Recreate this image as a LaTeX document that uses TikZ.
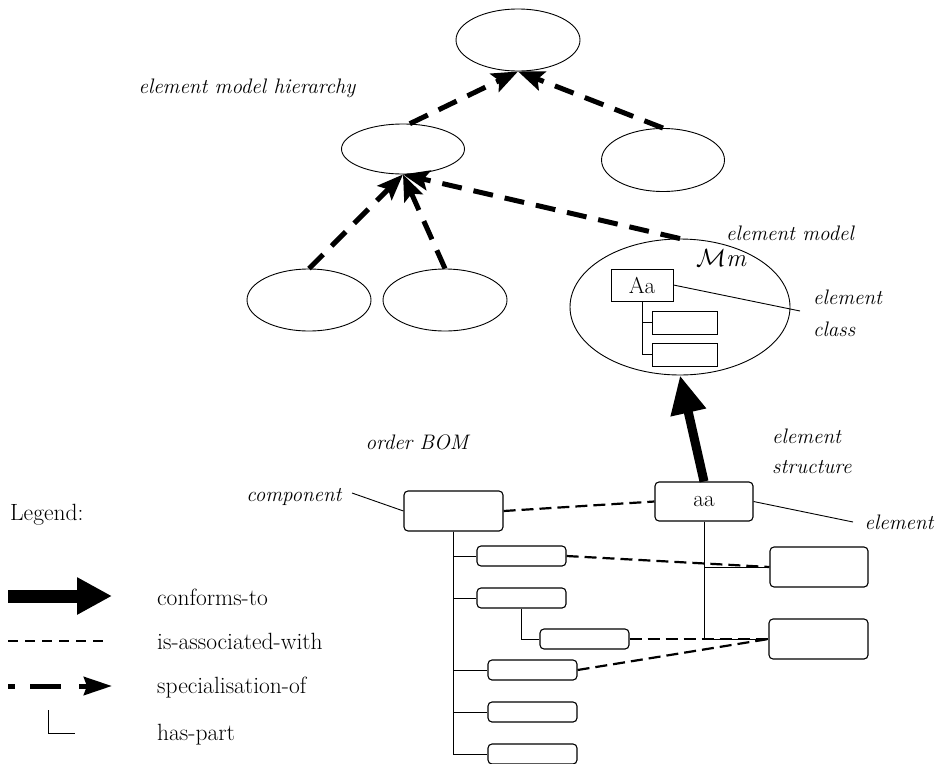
\documentclass[tikz,border=0pt]{standalone}
\usetikzlibrary{shapes.geometric,arrows.meta,calc}
\begin{document}
\begin{tikzpicture}[x=1pt,y=-1pt,
  ell/.style={draw,ellipse,line width=0.9pt,inner sep=0pt},
  rbox/.style={draw,rounded corners=4pt,line width=1.1pt,inner sep=0pt},
  sbox/.style={draw,line width=0.9pt,inner sep=0pt},
  thin/.style={line width=0.9pt},
  spec/.style={line width=5pt,dash pattern=on 20pt off 12pt,-{Stealth[length=26pt,width=20pt,inset=5pt]}},
  assoc/.style={line width=2.2pt,dash pattern=on 12pt off 6pt},
  legassoc/.style={line width=2pt,dash pattern=on 10pt off 7pt},
  conf/.style={line width=9pt,-{Triangle[length=38pt,width=34pt]}},
  itl/.style={font=\fontsize{21}{24}\selectfont\itshape,inner sep=0pt},
  leg/.style={font=\fontsize{23.5}{27}\selectfont,inner sep=0pt},
  big/.style={font=\fontsize{23}{26}\selectfont}
]
\useasboundingbox (0,0) rectangle (936,763);

% ellipses of the hierarchy
\node[ell,minimum width=124pt,minimum height=62pt] (top) at (518,40) {};
\node[ell,minimum width=123pt,minimum height=50pt] (mid) at (403,149) {};
\node[ell,minimum width=123pt,minimum height=63pt] (rgt) at (663,160) {};
\node[ell,minimum width=124pt,minimum height=62pt] (bl1) at (309,300) {};
\node[ell,minimum width=124pt,minimum height=62pt] (bl2) at (445,300) {};
\node[ell,minimum width=220pt,minimum height=136pt] (mm) at (680,307) {};

% inside element model
\node[inner sep=0pt,font=\fontsize{24.88}{28}\selectfont] (mmtext) at (722,258) {$\mathcal{M}\mathit{m}$};
\node[sbox,minimum width=62pt,minimum height=32pt,big] (Aa) at (642,285) {Aa};
\node[sbox,minimum width=65pt,minimum height=23pt] (s1) at (684.5,322.5) {};
\node[sbox,minimum width=65pt,minimum height=23pt] (s2) at (684.5,354.5) {};
\draw[thin] (Aa.south) |- (s1.west);
\draw[thin] (Aa.south) |- (s2.west);

% specialisation arrows
\draw[spec] (mid.75) -- (top.south);
\draw[spec] (rgt.north) -- (top.south);
\draw[spec] (bl1.north) -- (mid.south);
\draw[spec] (bl2.north) -- (mid.south);
\draw[spec] (mm.north) -- (mid.south);

% labels top
\node[itl] (lhier) at (247,88) {element model hierarchy};
\node[itl] (lmodel) at (790,233) {element model};
\node[itl,anchor=west] (lclass1) at (813,297) {element};
\node[itl,anchor=west] (lclass2) at (813,329) {class};
\coordinate (cls) at (800,311);
\draw[thin] (Aa.east) -- (cls);

% element structure
\node[rbox,minimum width=98pt,minimum height=39pt,big] (aa) at (704,501.5) {aa};
\node[rbox,minimum width=98pt,minimum height=40pt] (rb1) at (819,567) {};
\node[rbox,minimum width=99pt,minimum height=40pt] (rb2) at (818.5,639) {};
\draw[thin] (aa.south) |- (rb1.west);
\draw[thin] (aa.south) |- (rb2.west);
\draw[conf] (aa.north) -- (mm.south);
\node[itl,anchor=west] (lstr1) at (772,436) {element};
\node[itl,anchor=west] (lstr2) at (772,467) {structure};
\node[itl] (lelem) at (899,522) {element};
\coordinate (elc) at (853,522);
\draw[thin] (aa.east) -- (elc);

% order BOM
\node[itl] (lbom) at (417,442) {order BOM};
\node[itl] (lcomp) at (294,497) {component};
\coordinate (cmpc) at (352,493);
\node[rbox,minimum width=99pt,minimum height=40pt] (comp) at (453.5,511) {};
\draw[thin] (cmpc) -- (comp.west);
\node[rbox,minimum width=89pt,minimum height=20pt] (c1) at (521.5,556) {};
\node[rbox,minimum width=89pt,minimum height=20pt] (c2) at (521.5,598) {};
\node[rbox,minimum width=89pt,minimum height=20pt] (c21) at (584.5,639) {};
\node[rbox,minimum width=89pt,minimum height=20pt] (c3) at (532.5,670) {};
\node[rbox,minimum width=89pt,minimum height=20pt] (c4) at (532.5,712) {};
\node[rbox,minimum width=89pt,minimum height=20pt] (c5) at (532.5,754) {};
\draw[thin] (comp.south) |- (c1.west);
\draw[thin] (comp.south) |- (c2.west);
\draw[thin] (comp.south) |- (c3.west);
\draw[thin] (comp.south) |- (c4.west);
\draw[thin] (comp.south) |- (c5.west);
\draw[thin] (c2.south) |- (c21.west);

% associations
\draw[assoc] (comp.east) -- (aa.west);
\draw[assoc] (c1.east) -- (rb1.west);
\draw[assoc] (c21.east) -- (rb2.west);
\draw[assoc] (c3.east) -- (rb2.west);

% legend
\node[leg,anchor=base west] (legt) at (10,520) {Legend:};
\coordinate (l1a) at (8,596); \coordinate (l1b) at (112,596);
\draw[line width=13pt,-{Triangle[length=35pt,width=35pt]}] (l1a) -- (l1b);
\node[leg,anchor=base west] (lg1) at (157,605) {conforms-to};
\coordinate (l2a) at (8,641); \coordinate (l2b) at (110,641);
\draw[legassoc] (l2a) -- (l2b);
\node[leg,anchor=base west] (lg2) at (157,649) {is-associated-with};
\coordinate (l3a) at (8,686); \coordinate (l3b) at (112,686);
\draw[line width=5pt,dash pattern=on 7pt off 15pt on 31pt off 18pt on 60pt,-{Stealth[length=28pt,width=18pt,inset=3pt]}] (l3a) -- (l3b);
\node[leg,anchor=base west] (lg3) at (157,693) {specialisation-of};
\coordinate (l4a) at (48,710); \coordinate (l4b) at (75,733);
\draw[thin] (l4a) |- (l4b);
\node[leg,anchor=base west] (lg4) at (157,740) {has-part};
\end{tikzpicture}
\end{document}
